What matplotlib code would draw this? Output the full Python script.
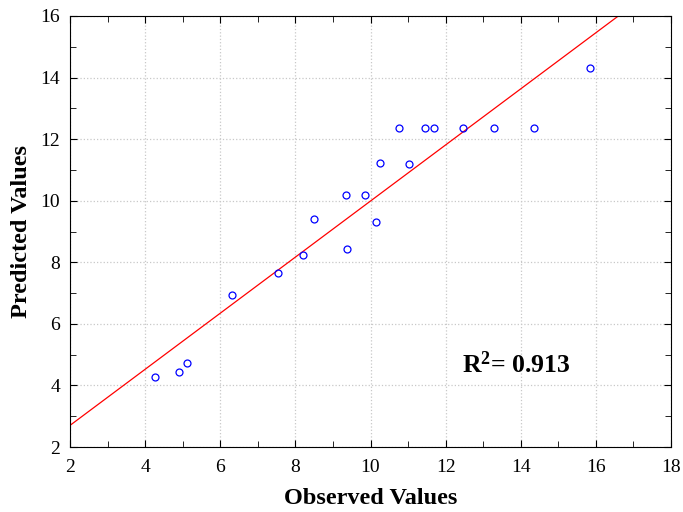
import numpy as np
import matplotlib
matplotlib.use("Agg")
import matplotlib.pyplot as plt
from matplotlib.ticker import MultipleLocator

observed = [4.25, 4.90, 5.12, 6.31, 7.53, 8.20, 8.50, 9.37, 9.35, 9.85, 10.14, 10.25, 11.03,
            10.75, 11.46, 11.68, 12.45, 13.28, 14.35, 15.85]
predicted = [4.28, 4.44, 4.72, 6.95, 7.64, 8.24, 9.42, 8.42, 10.18, 10.18, 9.30, 11.24, 11.20,
             12.37, 12.37, 12.37, 12.37, 12.37, 12.37, 14.31]
fit_intercept = 0.88
fit_slope = 0.911
r2_text = "R$^{2}$= 0.913"

plt.rcParams['font.family'] = ['Liberation Serif', 'DejaVu Serif']
plt.rcParams['mathtext.fontset'] = 'custom'
plt.rcParams['mathtext.rm'] = 'Liberation Serif:bold'
plt.rcParams['mathtext.it'] = 'Liberation Serif:bold'
plt.rcParams['mathtext.bf'] = 'Liberation Serif:bold'

fig = plt.figure(figsize=(6.83, 5.12), dpi=100)
ax = fig.add_axes([70/683, 1-447/512, 601/683, 431/512])

xs = np.array([2, 18])
ax.plot(xs, fit_intercept + fit_slope*xs, color='red', lw=0.9, zorder=2)
ax.plot(observed, predicted, 'o', mfc='none', mec='blue', ms=5, mew=0.9, zorder=3)

ax.set_xlim(2, 18)
ax.set_ylim(2, 16)
ax.xaxis.set_major_locator(MultipleLocator(2))
ax.yaxis.set_major_locator(MultipleLocator(2))
ax.xaxis.set_minor_locator(MultipleLocator(1))
ax.yaxis.set_minor_locator(MultipleLocator(1))
ax.tick_params(which='both', direction='in', top=True, right=True, labelsize=14)
ax.tick_params(axis='x', which='both', pad=9)
ax.tick_params(axis='y', which='both', pad=7)
ax.tick_params(which='major', length=5)
ax.tick_params(which='minor', length=4)
ax.grid(True, which='major', color='#c8c8c8', linestyle=':', lw=0.9)
ax.set_axisbelow(True)

ax.set_xlabel('Observed Values', fontsize=17.5, fontweight='bold', labelpad=8)
ax.set_ylabel('Predicted Values', fontsize=17.5, fontweight='bold', labelpad=6)
ax.text(13.87, 4.67, r2_text, fontsize=18.5, fontweight='bold', ha='center', va='center')

fig.savefig('out.png', dpi=100)
